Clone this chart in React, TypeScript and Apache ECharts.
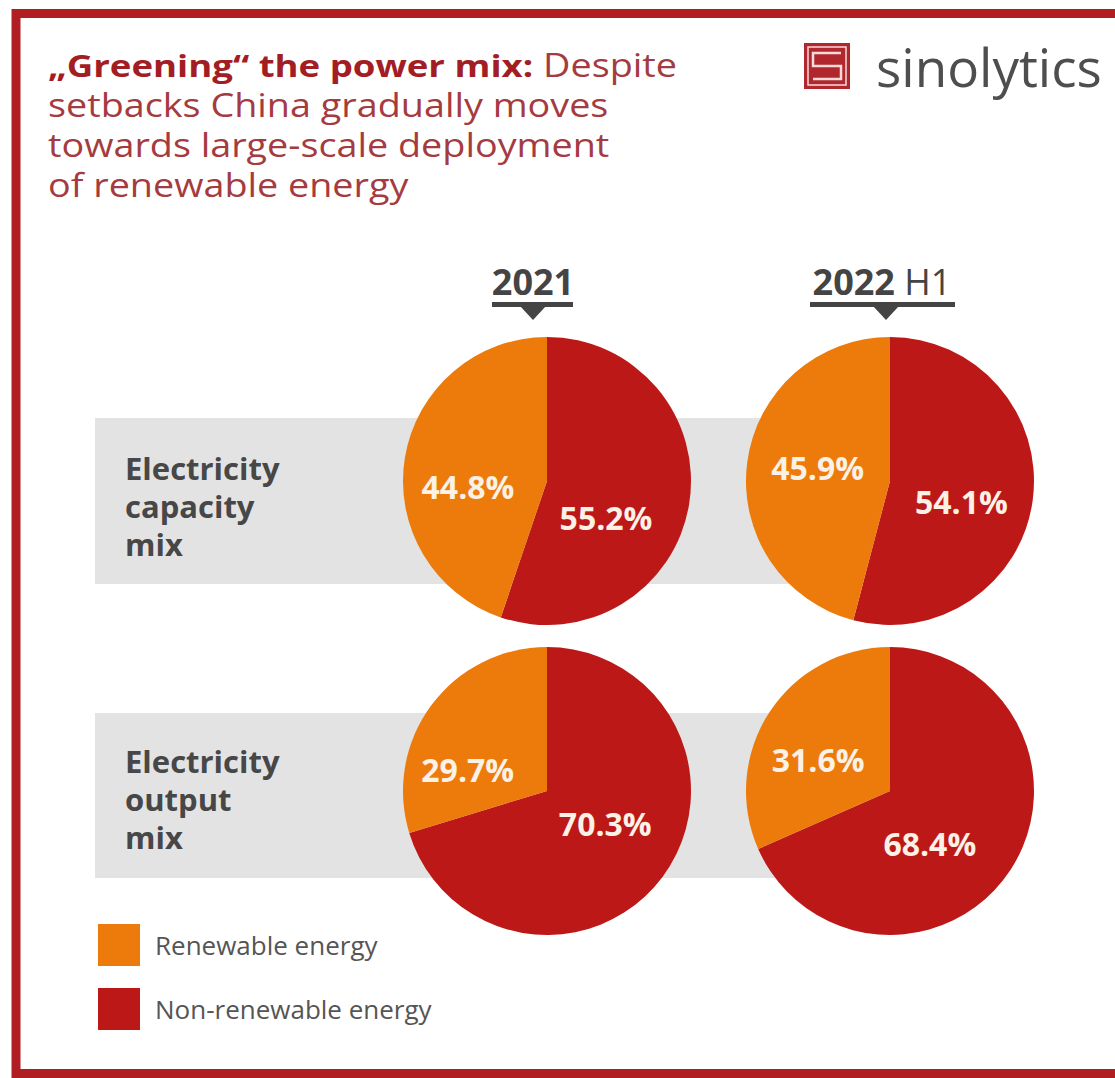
import React, { useEffect, useRef } from "react";
import * as echarts from "echarts";

// ---- data ----
const categories = ["Renewable energy", "Non-renewable energy"];
const periods = ["2021", "2022 H1"];
const rowLabels = ["Electricity\ncapacity\nmix", "Electricity\noutput\nmix"];
const capacityRenewable = [44.8, 45.9];
const capacityNonRenewable = [55.2, 54.1];
const outputRenewable = [29.7, 31.6];
const outputNonRenewable = [70.3, 68.4];

// ---- styling ----
const ORANGE = "#ED7B0B";
const RED = "#BD1818";
const FRAME = "#B01E22";
const DARK = "#444444";
const FONT = "'Open Sans', 'DejaVu Sans', sans-serif";
const pieX = [547, 890];
const pieY = [481, 791];
const RADIUS = 144;
// label nudges [row][period] -> [nonRenewable offset, renewable offset]
const labelNudge = [
  [
    [[-15, 24], [-5, 18]],
    [[-3, 11], [2, -4]],
  ],
  [
    [[-2, -12], [-19, 23]],
    [[-23, 12], [-9, 9]],
  ],
];

export default function App() {
  const ref = useRef<HTMLDivElement>(null);
  useEffect(() => {
    document.body.style.margin = "0";
    const chart = echarts.init(ref.current!, undefined, { renderer: "svg" });

    const rowsData = [
      [capacityRenewable, capacityNonRenewable],
      [outputRenewable, outputNonRenewable],
    ];

    const series: any[] = [];
    rowsData.forEach(([ren, non], r) => {
      periods.forEach((p, i) => {
        series.push({
          type: "pie",
          name: `${p} ${rowLabels[r].replace(/\n/g, " ")}`,
          center: [pieX[i], pieY[r]],
          radius: RADIUS,
          startAngle: 90,
          clockwise: true,
          avoidLabelOverlap: false,
          emphasis: { disabled: true },
          labelLine: { show: false },
          label: {
            show: true,
            position: "inside",
            formatter: (pr: any) => `${Number(pr.value).toFixed(1)}%`,
            color: "#FBF1E6",
            fontFamily: FONT,
            fontWeight: 700,
            fontSize: 32,
          },
          data: [
            {
              name: categories[1],
              value: non[i],
              itemStyle: { color: RED },
              label: { offset: labelNudge[r][i][0] },
            },
            {
              name: categories[0],
              value: ren[i],
              itemStyle: { color: ORANGE },
              label: { offset: labelNudge[r][i][1] },
            },
          ],
        });
      });
    });

    const graphic: any[] = [
      // frame
      {
        type: "rect",
        z: 0,
        shape: { x: 16, y: 13.5, width: 1200, height: 1060 },
        style: { fill: "none", stroke: FRAME, lineWidth: 9 },
      },
      // grey bands
      {
        type: "rect",
        z: 0,
        shape: { x: 95, y: 418, width: 795, height: 166 },
        style: { fill: "#E3E3E3" },
      },
      {
        type: "rect",
        z: 0,
        shape: { x: 95, y: 713, width: 795, height: 165 },
        style: { fill: "#E3E3E3" },
      },
      // title (stretched horizontally to mimic the wide geometric face)
      {
        type: "text",
        z: 10,
        x: 48,
        y: 45,
        scaleX: 1.18,
        style: {
          text:
            "{b|„Greening“ the power mix:}{r| Despite}\n{r|setbacks China gradually moves}\n{r|towards large-scale deployment}\n{r|of renewable energy}",
          rich: {
            b: {
              fontFamily: FONT,
              fontWeight: 700,
              fontSize: 31,
              fill: "#A31D24",
              lineHeight: 40,
            },
            r: {
              fontFamily: FONT,
              fontWeight: 400,
              fontSize: 32,
              fill: "#A53B40",
              lineHeight: 40,
            },
          },
        },
      },
      // logo icon
      {
        type: "rect",
        z: 10,
        shape: { x: 804, y: 43, width: 46, height: 46 },
        style: { fill: "#B0282D" },
      },
      {
        type: "rect",
        z: 11,
        shape: { x: 808, y: 47, width: 38, height: 38 },
        style: { fill: "none", stroke: "#F6D9D9", lineWidth: 1.5 },
      },
      {
        type: "polyline",
        z: 11,
        shape: {
          points: [
            [841, 53],
            [813, 53],
            [813, 66],
            [841, 66],
            [841, 79],
            [813, 79],
          ],
        },
        style: { stroke: "#F6D9D9", lineWidth: 2.5, fill: "none" },
      },
      {
        type: "text",
        z: 10,
        x: 876,
        y: 66,
        style: {
          text: "sinolytics",
          fontFamily: FONT,
          fontSize: 53,
          fontWeight: 400,
          fill: "#4E4E4E",
          verticalAlign: "middle",
          align: "left",
        },
      },
      // period headers
      {
        type: "text",
        z: 10,
        x: 533,
        y: 281,
        style: {
          text: "2021",
          fontFamily: FONT,
          fontSize: 36,
          fontWeight: 700,
          fill: DARK,
          align: "center",
          verticalAlign: "middle",
        },
      },
      {
        type: "text",
        z: 10,
        x: 882,
        y: 281,
        style: {
          text: "{b|2022}{r| H1}",
          align: "center",
          verticalAlign: "middle",
          rich: {
            b: { fontFamily: FONT, fontSize: 36, fontWeight: 700, fill: DARK },
            r: { fontFamily: FONT, fontSize: 36, fontWeight: 400, fill: DARK },
          },
        },
      },
      {
        type: "rect",
        z: 10,
        shape: { x: 492, y: 302, width: 81, height: 5 },
        style: { fill: DARK },
      },
      {
        type: "polygon",
        z: 10,
        shape: { points: [[520, 306], [546, 306], [533, 320]] },
        style: { fill: DARK },
      },
      {
        type: "rect",
        z: 10,
        shape: { x: 810, y: 302, width: 145, height: 5 },
        style: { fill: DARK },
      },
      {
        type: "polygon",
        z: 10,
        shape: { points: [[873, 306], [899, 306], [886, 320]] },
        style: { fill: DARK },
      },
      // row labels
      {
        type: "text",
        z: 10,
        x: 125,
        y: 449,
        style: {
          text: rowLabels[0],
          fontFamily: FONT,
          fontSize: 31,
          fontWeight: 700,
          fill: "#474747",
          lineHeight: 38,
        },
      },
      {
        type: "text",
        z: 10,
        x: 125,
        y: 742,
        style: {
          text: rowLabels[1],
          fontFamily: FONT,
          fontSize: 31,
          fontWeight: 700,
          fill: "#474747",
          lineHeight: 38,
        },
      },
    ];

    chart.setOption({
      animation: false,
      backgroundColor: "#FFFFFF",
      color: [RED, ORANGE],
      legend: {
        data: categories,
        orient: "vertical",
        left: 98,
        top: 924,
        itemWidth: 42,
        itemHeight: 42,
        itemGap: 22,
        icon: "rect",
        padding: 0,
        selectedMode: false,
        textStyle: {
          fontFamily: FONT,
          fontSize: 26,
          color: "#555555",
          padding: [0, 0, 0, 10],
        },
      },
      graphic,
      series,
    });

    return () => chart.dispose();
  }, []);

  return <div ref={ref} style={{ width: 1115, height: 1078 }} />;
}
